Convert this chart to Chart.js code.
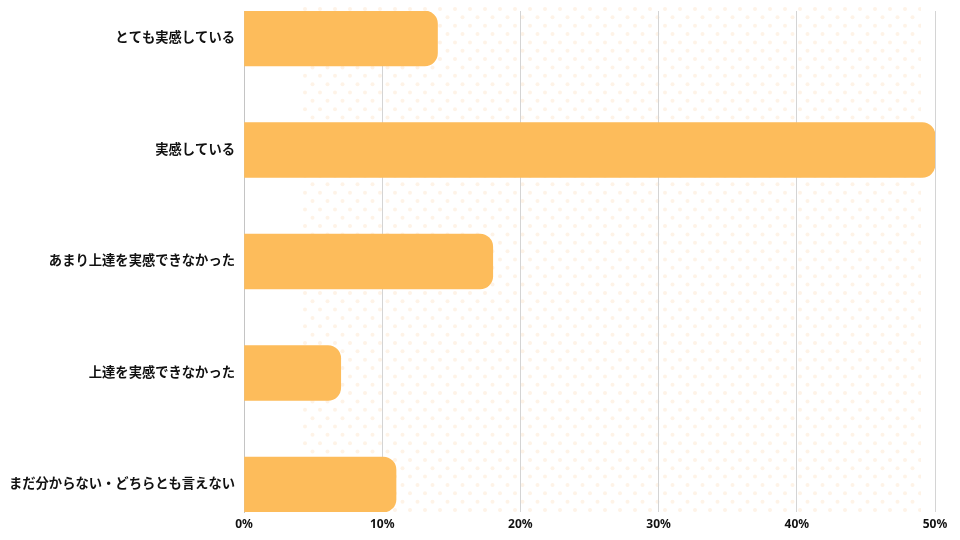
<!DOCTYPE html>
<html><head><meta charset="utf-8">
<script src="https://cdn.jsdelivr.net/npm/chart.js@4/dist/chart.umd.min.js"></script>
<style>html,body{margin:0;padding:0;background:#fff}#wrap{width:960px;height:540px}</style>
</head><body><div id="wrap"><canvas id="c" width="960" height="540"></canvas></div>
<script>
const categories = ['とても実感している','実感している','あまり上達を実感できなかった','上達を実感できなかった','まだ分からない・どちらとも言えない'];
const values = [14, 50, 18, 7, 11];
const xTicks = [0, 10, 20, 30, 40, 50];

const FONT = "'Noto Sans', 'Noto Sans CJK JP', sans-serif";

const dotPlugin = {
  id: 'dots',
  beforeDraw(chart) {
    const {ctx, chartArea: a} = chart;
    const x0 = a.left + 58, x1 = a.right - 14, y0 = a.top - 5, y1 = a.bottom;
    ctx.save();
    ctx.beginPath(); ctx.rect(x0, y0, x1 - x0, y1 - y0); ctx.clip();
    ctx.fillStyle = '#fef3e7';
    const dx = 15, dy = 8.35;
    let row = 0;
    for (let y = y0 + 3; y < y1; y += dy, row++) {
      const off = (row % 2) ? dx / 2 : 0;
      for (let x = x0 + 3 + off; x < x1; x += dx) {
        ctx.beginPath(); ctx.arc(x, y, 2, 0, Math.PI * 2); ctx.fill();
      }
    }
    ctx.restore();
  }
};

new Chart(document.getElementById('c'), {
  type: 'bar',
  data: {
    datasets: [{
      data: values.map((v, i) => ({x: v, y: i})),
      backgroundColor: '#fdbc5b',
      borderWidth: 0,
      borderRadius: 13,
      borderSkipped: 'start',
      barThickness: 55
    }]
  },
  plugins: [dotPlugin],
  options: {
    indexAxis: 'y',
    responsive: false,
    animation: false,
    layout: {padding: {left: 0, right: 25, top: 11, bottom: 0}},
    plugins: {legend: {display: false}, tooltip: {enabled: false}},
    scales: {
      x: {
        type: 'linear',
        min: 0, max: 50,
        afterBuildTicks: s => { s.ticks = xTicks.map(v => ({value: v})); },
        afterFit: s => { s.height = 28; s.paddingLeft = 0; s.paddingRight = 0; },
        grid: {color: '#d4d4d4', lineWidth: 1, drawTicks: false},
        border: {display: false},
        ticks: {padding: 5, color: '#111', font: {family: FONT, size: 12, weight: 'bold'}, callback: v => v + '%'}
      },
      y: {
        type: 'linear',
        reverse: true,
        offset: false,
        min: -0.246, max: 4.246,
        afterBuildTicks: s => { s.ticks = categories.map((_, i) => ({value: i})); },
        afterFit: s => { s.width = 244; s.paddingTop = 0; s.paddingBottom = 0; },
        grid: {display: false, drawTicks: false, offset: false},
        border: {display: true, color: '#c4c4c4', width: 1},
        ticks: {padding: 9, color: '#111', font: {family: FONT, size: 13.3, weight: 'bold'}, callback: v => categories[v]}
      }
    }
  }
});
</script></body></html>
